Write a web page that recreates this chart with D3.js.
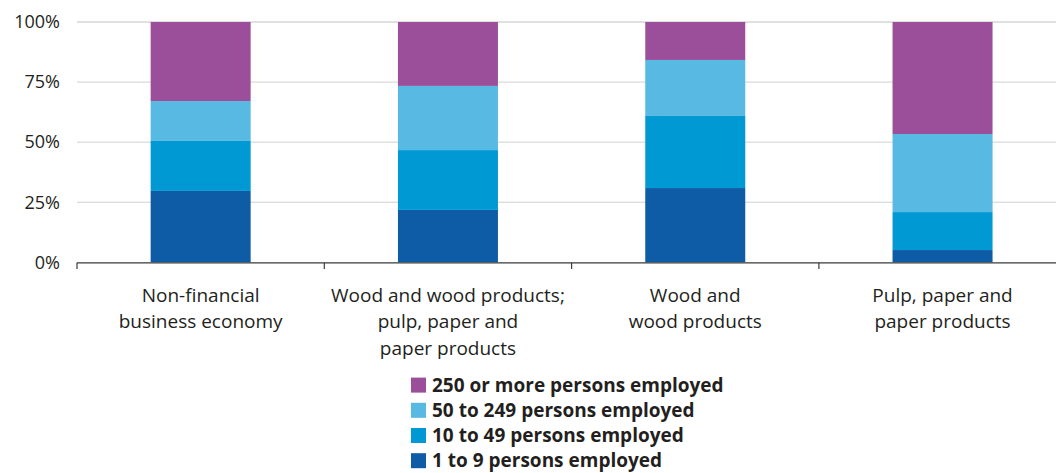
<!DOCTYPE html>
<html><head><meta charset="utf-8">
<script src="https://cdn.jsdelivr.net/npm/d3@7"></script>
<style>body{margin:0;background:#fff}svg{display:block}text{font-family:"Open Sans","Noto Sans",sans-serif;fill:#231f20}</style>
</head><body><svg id="c" width="1056" height="473"></svg>
<script>
const categories = [
  ["Non-financial","business economy"],
  ["Wood and wood products;","pulp, paper and","paper products"],
  ["Wood and","wood products"],
  ["Pulp, paper and","paper products"]
];
const seriesNames = ["1 to 9 persons employed","10 to 49 persons employed","50 to 249 persons employed","250 or more persons employed"];
const s1to9     = [29.7, 21.8, 30.9, 5.1];
const s10to49   = [20.8, 24.9, 30.0, 15.8];
const s50to249  = [16.6, 26.7, 23.3, 32.5];
const s250plus  = [32.9, 26.6, 15.8, 46.6];
const yTicks = [0, 25, 50, 75, 100];
const colors = ["#0d5ca5", "#0099d3", "#58b9e2", "#9b4f9b"];

const svg = d3.select("#c");
const x0 = 77, bandW = 247.3;
const x = d3.scaleBand().domain(d3.range(categories.length)).range([x0, x0 + bandW*4]).paddingInner(0).paddingOuter(0);
const y = d3.scaleLinear().domain([0, 100]).range([262.3, 22]);
const barW = 100;

// grid
svg.append("g").selectAll("line").data(yTicks.filter(d => d > 0)).join("line")
  .attr("x1", x0).attr("x2", 1056).attr("y1", d => y(d)).attr("y2", d => y(d))
  .attr("stroke", d => d === 100 ? "#d6d6d6" : "#d0d0d0").attr("stroke-width", d => d === 100 ? 1.6 : 1);

// y labels
svg.append("g").selectAll("text").data(yTicks).join("text")
  .attr("x", 60).attr("y", d => y(d) + 6.3).attr("text-anchor", "end")
  .style("font-size", "18px").text(d => d + "%");

// stacked bars
const rows = categories.map((c, i) => ({i, a: s1to9[i], b: s10to49[i], c: s50to249[i], d: s250plus[i]}));
const stack = d3.stack().keys(["a","b","c","d"])(rows);
svg.append("g").selectAll("g").data(stack).join("g").attr("fill", (d, k) => colors[k])
  .selectAll("rect").data(d => d).join("rect")
  .attr("x", d => x(d.data.i) + (bandW - barW)/2).attr("width", barW)
  .attr("y", d => y(d[1])).attr("height", d => y(d[0]) - y(d[1]));

// axis line and ticks
svg.append("line").attr("x1", x0).attr("x2", 1056).attr("y1", 262.8).attr("y2", 262.8).attr("stroke", "#3a3a3a").attr("stroke-width", 1.2);
svg.append("g").selectAll("line").data(d3.range(categories.length)).join("line")
  .attr("x1", d => x(d)).attr("x2", d => x(d)).attr("y1", 262.8).attr("y2", 269)
  .attr("stroke", "#3a3a3a").attr("stroke-width", 1.2);

// category labels
const cl = svg.append("g").selectAll("text").data(categories).join("text")
  .attr("text-anchor", "middle").style("font-size", "19px");
cl.each(function(lines, i) {
  d3.select(this).selectAll("tspan").data(lines).join("tspan")
    .attr("x", x(i) + bandW/2).attr("y", (l, j) => 301.5 + j*26.5).text(l => l);
});

// legend
const legendOrder = [3, 2, 1, 0];
const lg = svg.append("g").selectAll("g").data(legendOrder).join("g")
  .attr("transform", (d, j) => `translate(411, ${377.6 + j*25.2})`);
lg.append("rect").attr("width", 15).attr("height", 15).attr("fill", d => colors[d]);
lg.append("text").attr("x", 21).attr("y", 14.2).style("font-size", "19px").style("font-weight", "bold")
  .text(d => seriesNames[d]);
</script></body></html>
